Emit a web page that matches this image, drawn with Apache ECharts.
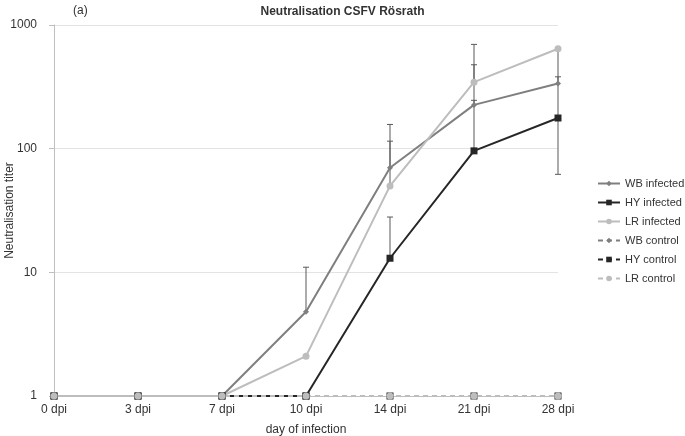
<!DOCTYPE html>
<html><head><meta charset="utf-8">
<script src="https://cdn.jsdelivr.net/npm/echarts@6/dist/echarts.min.js"></script>
<style>html,body{margin:0;padding:0;background:#fff}#c{width:685px;height:436px}</style>
</head><body><div id="c"></div>
<script>
var categories = ['0 dpi','3 dpi','7 dpi','10 dpi','14 dpi','21 dpi','28 dpi'];
var yTicks = [1, 10, 100, 1000];
var wbInfected = [1, 1, 1, 4.8, 70, 226, 337];
var hyInfected = [1, 1, 1, 1, 13, 96, 177];
var lrInfected = [1, 1, 1, 2.1, 50, 345, 642];
var wbControl = [1, 1, 1, 1, 1, 1, 1];
var hyControl = [1, 1, 1, 1, 1, 1, 1];
var lrControl = [1, 1, 1, 1, 1, 1, 1];
// error bars: [categoryIndex, low, high, capLow, capHigh]
var wbErr = [[3, 4.8, 11, 0, 1], [4, 70, 157, 0, 1], [5, 226, 477, 0, 1], [6, 337, 381, 0, 1]];
var hyErr = [[4, 13, 28, 0, 1], [5, 96, 246, 0, 1]];
var lrErr = [[4, 50, 115, 0, 1], [5, 345, 697, 0, 1], [6, 62, 642, 1, 0]];

var FONT = 'Liberation Sans, Arial, sans-serif';
var cWB = '#7f7f7f', cHY = '#262626', cLR = '#bdbdbd', cErr = '#595959';

function errSeries(data) {
  return {
    type: 'custom', data: data, z: 1, silent: true,
    renderItem: function (params, api) {
      var i = api.value(0);
      var lo = api.coord([i, api.value(1)]);
      var hi = api.coord([i, api.value(2)]);
      var w = 3;
      var ch = [{type: 'line', shape: {x1: lo[0], y1: lo[1], x2: hi[0], y2: hi[1]}, style: {stroke: cErr, lineWidth: 1}}];
      if (api.value(4)) ch.push({type: 'line', shape: {x1: hi[0]-w, y1: hi[1], x2: hi[0]+w, y2: hi[1]}, style: {stroke: cErr, lineWidth: 1}});
      if (api.value(3)) ch.push({type: 'line', shape: {x1: lo[0]-w, y1: lo[1], x2: lo[0]+w, y2: lo[1]}, style: {stroke: cErr, lineWidth: 1}});
      return {type: 'group', children: ch};
    }
  };
}
function lineSeries(name, data, color, symbol, size, dashed) {
  return {
    name: name, type: 'line', data: data, symbol: symbol, symbolSize: size,
    lineStyle: {color: color, width: 2, type: dashed ? [5, 4] : 'solid'},
    itemStyle: {color: color}, z: 3
  };
}
var chart = echarts.init(document.getElementById('c'));
chart.setOption({
  animation: false,
  title: {text: 'Neutralisation CSFV Rösrath', left: 'center', top: 1,
    textStyle: {fontFamily: FONT, fontSize: 12, fontWeight: 'bold', color: '#333'}},
  graphic: [{type: 'text', left: 73, top: 5, style: {text: '(a)', font: '12px ' + FONT, fill: '#333'}}],
  grid: {left: 54, right: 127, top: 25, bottom: 40, containLabel: false, outerBoundsMode: 'none'},
  legend: {
    orient: 'vertical', left: 592, top: 173, itemWidth: 22, itemHeight: 7, itemGap: 8,
    textStyle: {fontFamily: FONT, fontSize: 11, color: '#333'},
    data: ['WB infected', 'HY infected', 'LR infected', 'WB control', 'HY control', 'LR control']
  },
  xAxis: {
    type: 'category', data: categories, boundaryGap: false,
    name: 'day of infection', nameLocation: 'middle', nameGap: 28,
    nameTextStyle: {fontFamily: FONT, fontSize: 12, color: '#333'},
    axisLine: {lineStyle: {color: '#bfbfbf'}}, axisTick: {show: false},
    axisLabel: {fontFamily: FONT, fontSize: 12, color: '#333', margin: 8}
  },
  yAxis: {
    type: 'log', logBase: 10, min: yTicks[0], max: yTicks[yTicks.length - 1],
    name: 'Neutralisation titer', nameLocation: 'middle', nameGap: 38, nameMoveOverlap: false,
    nameTextStyle: {fontFamily: FONT, fontSize: 12, color: '#333'},
    axisLine: {show: true, lineStyle: {color: '#bfbfbf'}},
    axisTick: {show: true, length: 5, lineStyle: {color: '#bfbfbf'}},
    axisLabel: {fontFamily: FONT, fontSize: 12, color: '#333', margin: 17,
      formatter: function (v) { return String(Math.round(v)); }},
    splitLine: {lineStyle: {color: '#e3e3e3'}}
  },
  series: [
    errSeries(wbErr), errSeries(hyErr), errSeries(lrErr),
    lineSeries('WB infected', wbInfected, cWB, 'diamond', 6, false),
    lineSeries('HY infected', hyInfected, cHY, 'rect', 7, false),
    lineSeries('LR infected', lrInfected, cLR, 'circle', 7, false),
    lineSeries('WB control', wbControl, cWB, 'diamond', 6, true),
    lineSeries('HY control', hyControl, cHY, 'rect', 7, true),
    lineSeries('LR control', lrControl, cLR, 'circle', 7, true)
  ]
});
</script></body></html>
